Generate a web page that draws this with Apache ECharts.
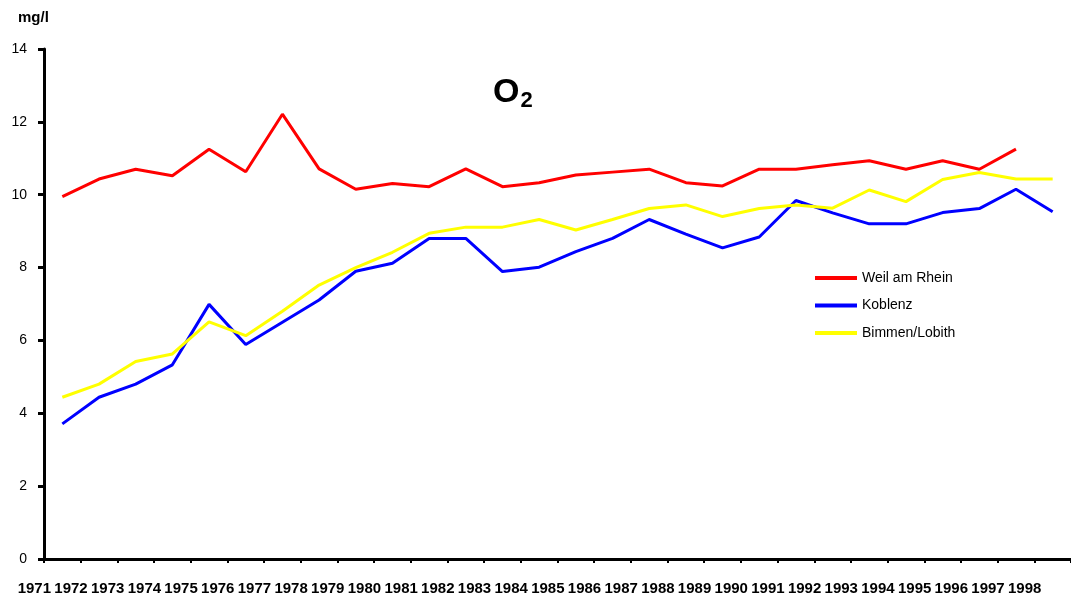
<!DOCTYPE html>
<html>
<head>
<meta charset="utf-8">
<script src="https://cdn.jsdelivr.net/npm/echarts@6/dist/echarts.min.js"></script>
<style>html,body{margin:0;padding:0;background:#fff;}#c{width:1071px;height:593px;}</style>
</head>
<body>
<div id="c"></div>
<script>
const years = ['1971','1972','1973','1974','1975','1976','1977','1978','1979','1980','1981','1982','1983','1984','1985','1986','1987','1988','1989','1990','1991','1992','1993','1994','1995','1996','1997','1998'];
const weil = [9.95,10.43,10.70,10.52,11.25,10.63,12.21,10.71,10.15,10.31,10.22,10.71,10.22,10.33,10.54,10.62,10.70,10.33,10.24,10.70,10.70,10.82,10.93,10.70,10.93,10.70,11.25,null];
const koblenz = [3.71,4.44,4.80,5.33,6.99,5.89,6.50,7.11,7.90,8.12,8.80,8.80,7.89,8.01,8.44,8.80,9.32,8.92,8.54,8.84,9.84,9.50,9.20,9.20,9.51,9.62,10.15,9.53];
const bimmen = [4.44,4.80,5.42,5.63,6.51,6.13,6.80,7.52,8.00,8.42,8.94,9.11,9.11,9.32,9.03,9.32,9.62,9.72,9.40,9.62,9.72,9.63,10.13,9.81,10.42,10.61,10.43,10.43];
const yTicks = {min:0, max:14, interval:2};

const chart = echarts.init(document.getElementById('c'));
const font = 'Liberation Sans, Arial, sans-serif';
chart.setOption({
  animation:false,
  backgroundColor:'#fff',
  title:{
    text:'{o|O}{s|2}',
    left:488, top:68,
    textStyle:{rich:{
      o:{fontSize:34,fontWeight:'bold',fontFamily:font,color:'#000'},
      s:{fontSize:22,fontWeight:'bold',fontFamily:font,color:'#000',padding:[17,0,0,1]}
    }}
  },
  graphic:[{type:'text',left:18,top:10,style:{text:'mg/l',font:'bold 15px '+font,fill:'#000'}}],
  legend:{
    orient:'vertical', left:810, top:266, itemWidth:42, itemHeight:4, itemGap:13.5, icon:'rect',
    textStyle:{fontSize:14,fontFamily:font,color:'#000'},
    data:['Weil am Rhein','Koblenz','Bimmen/Lobith']
  },
  grid:{left:44,right:0,top:49,bottom:34,outerBoundsMode:'none'},
  xAxis:{
    type:'category', data:years, boundaryGap:true,
    axisLine:{lineStyle:{color:'#000',width:3}},
    axisTick:{show:true,length:4,lineStyle:{color:'#000',width:2}},
    axisLabel:{interval:0,fontSize:15,fontWeight:'bold',fontFamily:font,color:'#000',margin:22,padding:[0,56,0,0]},
    splitLine:{show:false}
  },
  yAxis:{
    type:'value', min:yTicks.min, max:yTicks.max, interval:yTicks.interval,
    axisLine:{show:true,lineStyle:{color:'#000',width:3}},
    axisTick:{show:true,length:6,lineStyle:{color:'#000',width:3}},
    axisLabel:{fontSize:14,fontFamily:font,color:'#000',margin:17},
    splitLine:{show:false}
  },
  series:[
    {name:'Weil am Rhein',type:'line',data:weil,symbol:'none',lineStyle:{color:'#ff0000',width:3},itemStyle:{color:'#ff0000'}},
    {name:'Koblenz',type:'line',data:koblenz,symbol:'none',lineStyle:{color:'#0000ff',width:3},itemStyle:{color:'#0000ff'}},
    {name:'Bimmen/Lobith',type:'line',data:bimmen,symbol:'none',lineStyle:{color:'#ffff00',width:3},itemStyle:{color:'#ffff00'}}
  ]
});
</script>
</body>
</html>
